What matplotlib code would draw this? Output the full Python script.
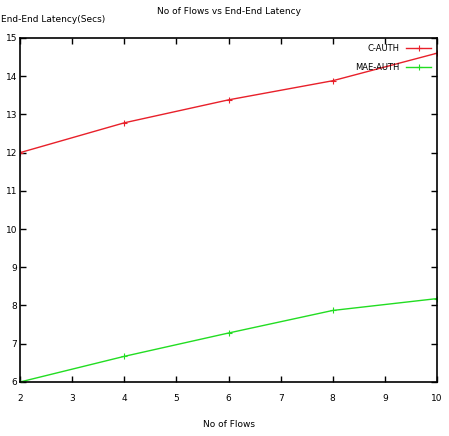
import matplotlib
matplotlib.use("Agg")
import matplotlib.pyplot as plt

# dados
flows = [2, 4, 6, 8, 10]
c_auth = [12.0, 12.78, 13.38, 13.88, 14.6]
mae_auth = [6.0, 6.67, 7.28, 7.87, 8.18]
x_ticks = [2, 3, 4, 5, 6, 7, 8, 9, 10]
y_ticks = [6, 7, 8, 9, 10, 11, 12, 13, 14, 15]

fig = plt.figure(figsize=(4.49, 4.36), dpi=100)
ax = fig.add_axes([0.045, 0.124, 0.928, 0.789])

ax.plot(flows, c_auth, color="#e8202a", lw=1, marker="+", ms=4, mew=0.8, label="C-AUTH")
ax.plot(flows, mae_auth, color="#22dd22", lw=1, marker="+", ms=4, mew=0.8, label="MAE-AUTH")

ax.set_xlim(2, 10)
ax.set_ylim(6, 15)
ax.set_xticks(x_ticks)
ax.set_yticks(y_ticks)
ax.tick_params(direction="in", top=True, right=True, length=4, width=1, labelsize=6.5)
ax.tick_params(axis="x", pad=9)
ax.tick_params(axis="y", pad=2)
for s in ax.spines.values():
    s.set_linewidth(1.2)

ax.set_title("No of Flows vs End-End Latency", fontsize=6.5, pad=17)
ax.set_xlabel("No of Flows", fontsize=6.5, labelpad=12)
fig.text(0.002, 0.955, "End-End Latency(Secs)", fontsize=6.5, ha="left", va="center")

leg = ax.legend(loc="upper right", frameon=False, fontsize=6, markerfirst=False,
                handlelength=3, borderaxespad=0.3, labelspacing=1.2)
for t in leg.get_texts():
    t.set_ha("right")

fig.savefig("out.png", dpi=100)
